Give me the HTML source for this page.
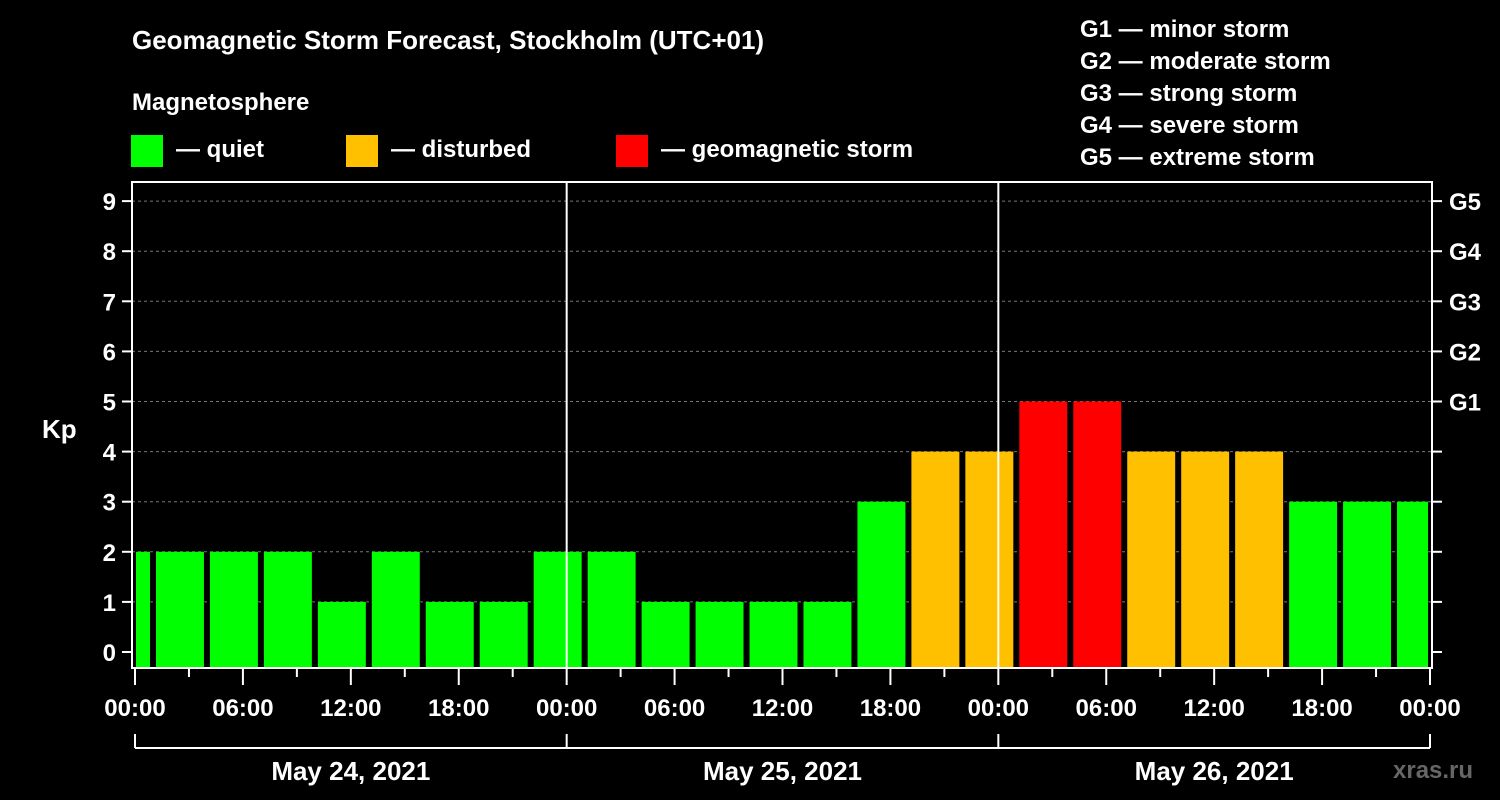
<!DOCTYPE html>
<html><head><meta charset="utf-8"><style>
body{margin:0;background:#000;}
svg{display:block;font-family:"Liberation Sans",Arial,sans-serif;font-weight:bold;}
</style></head><body>
<svg id="chart" width="1500" height="800" viewBox="0 0 1500 800">
<rect width="1500" height="800" fill="#000"/>
<text x="132" y="49" fill="#fff" font-size="26">Geomagnetic Storm Forecast, Stockholm (UTC+01)</text>
<text x="132" y="110" fill="#fff" font-size="24">Magnetosphere</text>
<g><rect x="131" y="135" width="32" height="32" fill="#00ff00"/><text x="176" y="157" fill="#fff" font-size="24">— quiet</text></g>
<g><rect x="346" y="135" width="32" height="32" fill="#ffc000"/><text x="391" y="157" fill="#fff" font-size="24">— disturbed</text></g>
<g><rect x="616" y="135" width="32" height="32" fill="#ff0000"/><text x="661" y="157" fill="#fff" font-size="24">— geomagnetic storm</text></g>
<g fill="#fff" font-size="24">
<text x="1080" y="37">G1 — minor storm</text>
<text x="1080" y="69">G2 — moderate storm</text>
<text x="1080" y="101">G3 — strong storm</text>
<text x="1080" y="133">G4 — severe storm</text>
<text x="1080" y="165">G5 — extreme storm</text>
</g>
<text x="42" y="438" fill="#fff" font-size="26">Kp</text>
<text x="1393" y="778" fill="#666" font-size="24">xras.ru</text>
<g id="grid"></g><g id="bars"></g><g id="axes"></g>
</svg>
<script>
const kpValues=[2,2,2,2,1,2,1,1,2,2,1,1,1,1,3,4,4,5,5,4,4,4,3,3,3];
const yTicks=[0,1,2,3,4,5,6,7,8,9];
const gLabels=["G1","G2","G3","G4","G5"];
const gLevels=[5,6,7,8,9];
const xLabels=["00:00","06:00","12:00","18:00","00:00","06:00","12:00","18:00","00:00","06:00","12:00","18:00","00:00"];
const dayLabels=["May 24, 2021","May 25, 2021","May 26, 2021"];
const utcOffsetH=1;
const NS="http://www.w3.org/2000/svg";
const X0=132,X1=1432,TOP=182,BOT=668,HX=(1430-135)/72;
const xs=h=>135+h*HX;
const ys=v=>652-v*50.1;
function mk(t,a,p){const e=document.createElementNS(NS,t);for(const k in a)e.setAttribute(k,a[k]);p.appendChild(e);return e;}
const grid=document.getElementById('grid'),bars=document.getElementById('bars'),axes=document.getElementById('axes');
yTicks.forEach(v=>{if(v>0){const l=mk('line',{x1:X0,x2:X1,y1:ys(v),y2:ys(v),stroke:'#777','stroke-dasharray':'3,3','stroke-width':1},grid);

}});
kpValues.forEach((v,i)=>{
  let s=xs(i*3-3+utcOffsetH)+3,e=xs(i*3+utcOffsetH)-3;
  s=Math.max(s,X0+4);e=Math.min(e,X1-4);
  const c=v>=5?'#ff0000':v>=4?'#ffc000':'#00ff00';
  const r=mk('rect',{x:s,y:ys(v),width:e-s,height:BOT-1-ys(v),fill:c},bars);
  
  
});
[1,2].forEach(d=>{const l=mk('line',{x1:xs(d*24),x2:xs(d*24),y1:TOP,y2:BOT,stroke:'#fff','stroke-width':2},axes);

});
const fr=mk('rect',{x:X0,y:TOP,width:X1-X0,height:BOT-TOP,fill:'none',stroke:'#fff','stroke-width':2},axes);


yTicks.forEach(v=>{
  mk('line',{x1:122,x2:X0,y1:ys(v),y2:ys(v),stroke:'#fff','stroke-width':2},axes);
  mk('line',{x1:X1,x2:1442,y1:ys(v),y2:ys(v),stroke:'#fff','stroke-width':2},axes);
  const t=mk('text',{x:116,y:ys(v)+9,fill:'#fff','font-size':24,'text-anchor':'end'},axes);t.textContent=v;
  
  
});
gLevels.forEach((v,i)=>{const t=mk('text',{x:1449,y:ys(v)+9,fill:'#fff','font-size':24},axes);t.textContent=gLabels[i];

});
for(let h=0;h<=72;h+=3){const maj=h%6===0;mk('line',{x1:xs(h),x2:xs(h),y1:BOT,y2:maj?685:677,stroke:'#fff','stroke-width':2},axes);}
xLabels.forEach((s,i)=>{const t=mk('text',{x:xs(i*6),y:716,fill:'#fff','font-size':24,'text-anchor':'middle'},axes);t.textContent=s;

});
mk('line',{x1:xs(0),x2:xs(72),y1:748,y2:748,stroke:'#fff','stroke-width':2},axes);
[0,24,48,72].forEach(h=>mk('line',{x1:xs(h),x2:xs(h),y1:734,y2:748,stroke:'#fff','stroke-width':2},axes));
dayLabels.forEach((s,i)=>{const t=mk('text',{x:xs(i*24+12),y:780,fill:'#fff','font-size':26,'text-anchor':'middle'},axes);t.textContent=s;

});
</script>
</body></html>
